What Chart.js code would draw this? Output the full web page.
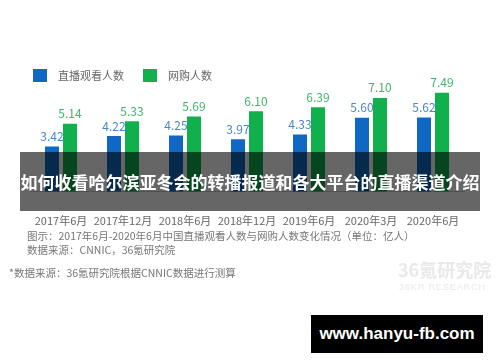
<!DOCTYPE html>
<html>
<head>
<meta charset="utf-8">
<script src="https://cdn.jsdelivr.net/npm/chart.js@4"></script>
<style>
  html, body { margin: 0; padding: 0; background: #fff; }
  #wrap { position: relative; width: 500px; height: 362px; overflow: hidden; font-family: "Noto Sans CJK SC", sans-serif; }
  #chart { position: absolute; left: 0; top: 0; }
  .band { position: absolute; left: 20px; top: 152px; width: 460px; height: 59px; background: rgba(0,0,0,0.6);
          color: #fff; font-weight: bold; font-size: 17px; line-height: 59px; text-align: center; white-space: nowrap; }
  .note { position: absolute; color: #777; font-size: 10.5px; white-space: nowrap; line-height: 14px; }
  .wm1 { position: absolute; left: 398px; top: 258px; color: #e9e9e9; font-weight: bold; font-size: 18px; line-height: 22px; }
  .wm2 { position: absolute; left: 399px; top: 281px; color: #e9e9e9; font-size: 9.5px; line-height: 12px; letter-spacing: 0.6px; font-family: "Liberation Sans", sans-serif; }
  .url { position: absolute; left: 311px; top: 315px; width: 172px; height: 38px; background: #000; color: #fff;
         font-family: "Liberation Sans", sans-serif; font-weight: bold; font-size: 17px; line-height: 38px; text-align: center; }
</style>
</head>
<body>
<div id="wrap">
  <canvas id="chart" width="500" height="362"></canvas>
  <div class="band">如何收看哈尔滨亚冬会的转播报道和各大平台的直播渠道介绍</div>
  <div class="note" style="left:27px;top:229px;">图示：2017年6月-2020年6月中国直播观看人数与网购人数变化情况（单位：亿人）</div>
  <div class="note" style="left:27px;top:243px;">数据来源：CNNIC，36氪研究院</div>
  <div class="note" style="left:9px;top:266px;">*数据来源：36氪研究院根据CNNIC数据进行测算</div>
  <div class="wm1">36氪研究院</div>
  <div class="wm2">36KR RESEARCH</div>
  <div class="url">www.hanyu-fb.com</div>
</div>
<script>
var periods = ["2017年6月", "2017年12月", "2018年6月", "2018年12月", "2019年6月", "2020年3月", "2020年6月"];
var liveViewers = [3.42, 4.22, 4.25, 3.97, 4.33, 5.60, 5.62];
var onlineShoppers = [5.14, 5.33, 5.69, 6.10, 6.39, 7.10, 7.49];
var seriesNames = ["直播观看人数", "网购人数"];

var barColors = ["#0f69c4", "#10b04d"];
var labelColors = ["#4a86c4", "#3cb86c"];
var fontFamily = '"Noto Sans CJK SC", sans-serif';

// value labels above each bar
var valueLabels = {
    id: 'valueLabels',
    afterDatasetsDraw: function(chart) {
        var ctx = chart.ctx;
        ctx.save();
        ctx.font = '12px ' + fontFamily;
        ctx.textAlign = 'center';
        ctx.textBaseline = 'bottom';
        chart.data.datasets.forEach(function(ds, i) {
            var meta = chart.getDatasetMeta(i);
            ctx.fillStyle = labelColors[i];
            meta.data.forEach(function(bar, j) {
                ctx.fillText(ds.data[j].toFixed(2), bar.x, bar.y - 4);
            });
        });
        ctx.restore();
    }
};

// legend drawn at fixed spot, top left
var topLegend = {
    id: 'topLegend',
    afterDraw: function(chart) {
        var ctx = chart.ctx;
        var xs = [33, 143];
        ctx.save();
        ctx.font = '11px ' + fontFamily;
        ctx.textBaseline = 'middle';
        chart.data.datasets.forEach(function(ds, i) {
            ctx.fillStyle = ds.backgroundColor;
            ctx.fillRect(xs[i], 69, 14, 13);
            ctx.fillStyle = '#666';
            ctx.fillText(ds.label, xs[i] + 25, 76);
        });
        ctx.restore();
    }
};

new Chart(document.getElementById('chart'), {
    type: 'bar',
    data: {
        labels: periods,
        datasets: [
            { label: seriesNames[0], data: liveViewers, backgroundColor: barColors[0] },
            { label: seriesNames[1], data: onlineShoppers, backgroundColor: barColors[1] }
        ]
    },
    options: {
        responsive: false,
        animation: false,
        categoryPercentage: 0.58,
        barPercentage: 0.78,
        layout: { padding: { top: 86, left: 30, right: 36, bottom: 121 } },
        plugins: { legend: { display: false }, tooltip: { enabled: false } },
        scales: {
            x: {
                grid: { display: false },
                border: { display: true, color: '#c8c8c8' },
                ticks: { color: '#666', font: { size: 11, family: fontFamily }, padding: 14, maxRotation: 0, autoSkip: false }
            },
            y: { display: false, min: 0, max: 8 }
        }
    },
    plugins: [valueLabels, topLegend]
});
</script>
</body>
</html>
